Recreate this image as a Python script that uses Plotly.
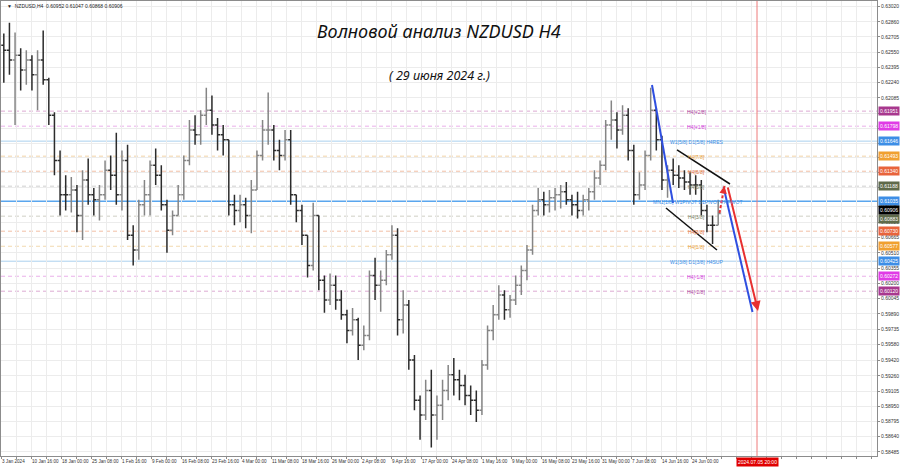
import plotly.graph_objects as go

# ---------------- data (daily candles) ----------------
day_index = list(range(128))

opens = [0.6262, 0.6257, 0.6247, 0.6252, 0.6237, 0.6247, 0.6232, 0.6247, 0.6227, 0.6191,
         0.6145, 0.6110, 0.6110, 0.6115, 0.6089, 0.6125, 0.6110, 0.6105, 0.6110, 0.6135,
         0.6130, 0.6110, 0.6145, 0.6069, 0.6054, 0.6100, 0.6110, 0.6140, 0.6130, 0.6100,
         0.6074, 0.6089, 0.6110, 0.6145, 0.6176, 0.6171, 0.6191, 0.6196, 0.6181, 0.6171,
         0.6166, 0.6100, 0.6094, 0.6100, 0.6089, 0.6115, 0.6150, 0.6176, 0.6176, 0.6155,
         0.6150, 0.6166, 0.6110, 0.6094, 0.6069, 0.6038, 0.6089, 0.6023, 0.6003, 0.6018,
         0.6003, 0.5988, 0.5972, 0.5983, 0.5957, 0.5967, 0.6028, 0.6018, 0.6023, 0.6049,
         0.6069, 0.5983, 0.5998, 0.5942, 0.5901, 0.5886, 0.5911, 0.5886, 0.5896, 0.5911,
         0.5927, 0.5922, 0.5916, 0.5906, 0.5901, 0.5891, 0.5937, 0.5972, 0.5988, 0.6008,
         0.5993, 0.6003, 0.6018, 0.6033, 0.6054, 0.6094, 0.6105, 0.6100, 0.6107, 0.6110,
         0.6113, 0.6105, 0.6100, 0.6094, 0.6105, 0.6113, 0.6127, 0.6140, 0.6181, 0.6186,
         0.6176, 0.6191, 0.6155, 0.6110, 0.6120, 0.6150, 0.6196, 0.6166, 0.6125, 0.6135,
         0.6130, 0.6127, 0.6123, 0.6120, 0.6120, 0.6094, 0.6079, 0.6079]

highs = [0.6274, 0.6285, 0.6275, 0.6259, 0.6257, 0.6252, 0.6257, 0.6277, 0.6229, 0.6194,
         0.6155, 0.6130, 0.6128, 0.6120, 0.6135, 0.6147, 0.6117, 0.6120, 0.6145, 0.6150,
         0.6173, 0.6155, 0.6161, 0.6079, 0.6105, 0.6125, 0.6145, 0.6157, 0.6140, 0.6105,
         0.6094, 0.6120, 0.6150, 0.6186, 0.6191, 0.6196, 0.6219, 0.6211, 0.6188, 0.6181,
         0.6166, 0.6110, 0.6110, 0.6107, 0.6125, 0.6155, 0.6186, 0.6214, 0.6181, 0.6166,
         0.6176, 0.6176, 0.6110, 0.6100, 0.6069, 0.6102, 0.6089, 0.6028, 0.6030, 0.6028,
         0.6013, 0.5993, 0.5995, 0.5985, 0.5977, 0.6033, 0.6046, 0.6033, 0.6054, 0.6079,
         0.6076, 0.6013, 0.6003, 0.5947, 0.5906, 0.5922, 0.5932, 0.5906, 0.5922, 0.5937,
         0.5944, 0.5932, 0.5927, 0.5916, 0.5911, 0.5942, 0.5977, 0.5998, 0.6018, 0.6013,
         0.6008, 0.6028, 0.6038, 0.6059, 0.6100, 0.6117, 0.6113, 0.6115, 0.6117, 0.6120,
         0.6123, 0.6110, 0.6113, 0.6110, 0.6117, 0.6135, 0.6145, 0.6186, 0.6206, 0.6194,
         0.6201, 0.6198, 0.6161, 0.6133, 0.6155, 0.6219, 0.6198, 0.6170, 0.6140, 0.6147,
         0.6140, 0.6135, 0.6133, 0.6130, 0.6125, 0.6100, 0.6089, 0.6105]

lows = [0.6224, 0.6232, 0.6181, 0.6216, 0.6222, 0.6216, 0.6196, 0.6222, 0.6181, 0.6130,
        0.6089, 0.6094, 0.6092, 0.6072, 0.6064, 0.6100, 0.6089, 0.6084, 0.6105, 0.6115,
        0.6100, 0.6094, 0.6064, 0.6038, 0.6044, 0.6089, 0.6089, 0.6120, 0.6094, 0.6051,
        0.6069, 0.6089, 0.6105, 0.6140, 0.6161, 0.6161, 0.6181, 0.6171, 0.6155, 0.6150,
        0.6089, 0.6079, 0.6082, 0.6076, 0.6071, 0.6115, 0.6145, 0.6161, 0.6145, 0.6135,
        0.6145, 0.6100, 0.6082, 0.6059, 0.6026, 0.6033, 0.6013, 0.5990, 0.5998, 0.5993,
        0.5983, 0.5959, 0.5967, 0.5942, 0.5952, 0.5962, 0.6003, 0.5991, 0.6018, 0.6044,
        0.5967, 0.5969, 0.5932, 0.5891, 0.5861, 0.5881, 0.5853, 0.5861, 0.5881, 0.5901,
        0.5906, 0.5901, 0.5896, 0.5886, 0.5879, 0.5886, 0.5932, 0.5962, 0.5983, 0.5983,
        0.5985, 0.5998, 0.6008, 0.6023, 0.6049, 0.6089, 0.6089, 0.6092, 0.6094, 0.6096,
        0.6100, 0.6089, 0.6086, 0.6089, 0.6094, 0.6105, 0.6120, 0.6135, 0.6166, 0.6157,
        0.6171, 0.6145, 0.6100, 0.6105, 0.6115, 0.6145, 0.6155, 0.6115, 0.6107, 0.6120,
        0.6117, 0.6115, 0.6110, 0.6110, 0.6089, 0.6072, 0.6060, 0.6079]

closes = [0.6257, 0.6247, 0.6252, 0.6237, 0.6247, 0.6232, 0.6247, 0.6227, 0.6191, 0.6145,
          0.6110, 0.6110, 0.6115, 0.6089, 0.6125, 0.6110, 0.6105, 0.6110, 0.6135, 0.6130,
          0.6110, 0.6145, 0.6069, 0.6054, 0.6100, 0.6110, 0.6140, 0.6130, 0.6100, 0.6074,
          0.6089, 0.6110, 0.6145, 0.6176, 0.6171, 0.6191, 0.6196, 0.6181, 0.6171, 0.6166,
          0.6100, 0.6094, 0.6100, 0.6089, 0.6115, 0.6150, 0.6176, 0.6176, 0.6155, 0.6150,
          0.6166, 0.6110, 0.6094, 0.6069, 0.6038, 0.6089, 0.6023, 0.6003, 0.6018, 0.6003,
          0.5988, 0.5972, 0.5983, 0.5957, 0.5967, 0.6028, 0.6018, 0.6023, 0.6049, 0.6069,
          0.5983, 0.5998, 0.5942, 0.5901, 0.5886, 0.5911, 0.5886, 0.5896, 0.5911, 0.5927,
          0.5922, 0.5916, 0.5906, 0.5901, 0.5891, 0.5937, 0.5972, 0.5988, 0.6008, 0.5993,
          0.6003, 0.6018, 0.6033, 0.6054, 0.6094, 0.6105, 0.6100, 0.6107, 0.6110, 0.6113,
          0.6105, 0.6100, 0.6094, 0.6105, 0.6113, 0.6127, 0.6140, 0.6181, 0.6186, 0.6176,
          0.6191, 0.6155, 0.6110, 0.6120, 0.6150, 0.6196, 0.6166, 0.6125, 0.6135, 0.6130,
          0.6127, 0.6123, 0.6120, 0.6120, 0.6094, 0.6079, 0.6079, 0.6091]

# x axis (H4 bar units) tick labels
x_tick_bars = [0, 32, 64, 96, 128, 160, 192, 224, 256, 288, 320, 352, 384, 416,
               448, 480, 512, 544, 576, 608, 640, 672, 704, 736]
x_tick_labels = ["3 Jan 2024", "10 Jan 16:00", "18 Jan 00:00", "25 Jan 08:00",
                 "1 Feb 16:00", "9 Feb 00:00", "16 Feb 08:00", "23 Feb 16:00",
                 "4 Mar 00:00", "11 Mar 08:00", "18 Mar 16:00", "26 Mar 00:00",
                 "2 Apr 08:00", "9 Apr 16:00", "17 Apr 00:00", "24 Apr 08:00",
                 "1 May 16:00", "9 May 00:00", "16 May 08:00", "23 May 16:00",
                 "31 May 00:00", "7 Jun 08:00", "14 Jun 16:00", "24 Jun 00:00"]

# price axis ticks (labels hidden behind the level tags are left blank)
y_tick_values = [0.63020, 0.62860, 0.62705, 0.62550, 0.62395, 0.62240, 0.62085,
                 0.61930, 0.61775, 0.61620, 0.61480, 0.61325, 0.61170, 0.60980,
                 0.60820, 0.60665, 0.60510, 0.60355, 0.60200, 0.60045, 0.59890,
                 0.59735, 0.59580, 0.59420, 0.59260, 0.59105, 0.58950, 0.58795,
                 0.58640, 0.58485]
y_hidden_labels = [0.61930, 0.61775, 0.61620, 0.61480, 0.61325, 0.61170]

# Murrey levels
level_prices = [0.61951, 0.61798, 0.61646, 0.61493, 0.61340, 0.61188, 0.61035,
                0.60883, 0.60730, 0.60577, 0.60425, 0.60272, 0.60120]
level_names = ["H4[+2/8]", "H4[+1/8]", "W1[5/8] D1[5/8] H4RES", "H4[7/8]", "H4[6/8]",
               "H4[5/8]", "MN1[1/8] W1PIVOT D1PIVOT H4PIVOT", "H4[3/8]", "H4[2/8]",
               "H4[1/8]", "W1[3/8] D1[3/8] H4SUP", "H4[-1/8]", "H4[-2/8]"]
current_price = 0.60906
header_ohlc = ["0.60952", "0.61047", "0.60868", "0.60906"]

# drawn analysis objects (bar index, price)
blue_line_1 = ([694.4, 716.8], [0.62217, 0.61017])
blue_line_2 = ([770.7, 801.6], [0.61179, 0.59908])
black_upper = ([721.1, 777.6], [0.61556, 0.61210])
black_lower = ([709.3, 763.7], [0.60966, 0.60539])
red_dashed = ([766.4, 771.7], [0.60915, 0.61190])
red_solid = ([774.9, 807.5], [0.61190, 0.59918])
future_time_bar = 806.4
future_time_label = "2024.07.05 20:00"

# ---------------- styles ----------------
tag_colors = ["#a8388e", "#e03ce6", "#3d8ee6", "#f0a030", "#e8643c", "#5f6a4a",
              "#3d8ee6", "#5f6a4a", "#e8643c", "#f0a030", "#3d8ee6", "#e03ce6", "#a8388e"]
text_colors = ["#b04aa0", "#d040d8", "#3d8ee6", "#e8a040", "#e07040", "#7a8064",
               "#3d8ee6", "#7a8064", "#e07040", "#e8a040", "#3d8ee6", "#d040d8", "#b04aa0"]
line_colors = ["#dcaad2", "#eab0ea", "#aad0ee", "#f2d3a6", "#f2bfa6", "#cfcfcf",
               "#5aa6ee", "#cfcfc4", "#f2bfa6", "#f2d9ae", "#aad0ee", "#eab0ea", "#dcaad2"]
line_dash = ["4px,3px", "4px,3px", "solid", "4px,3px", "4px,3px", "4px,3px", "solid",
             "4px,3px", "4px,3px", "4px,3px", "solid", "4px,3px", "4px,3px"]
line_width = [1, 1, 1, 1, 1, 1, 1.6, 1, 1, 1, 1, 1, 1]
label_bar = [729.6, 729.6, 711.5, 730.5, 730.5, 730.5, 693.3, 730.5, 730.5, 730.5,
             711.5, 729.6, 729.6]
tag_shift = [0, 0, 0, 0, 0, 0, 0, -3, 0, 0, 0, 0, 0]

X_RANGE = [0, 934.4]
Y_RANGE = [0.58444, 0.63071]
SMALL = 5
XFONT = 4.6
FONT = "Liberation Sans"

x_candle = [6 * d + 3 for d in day_index]

fig = go.Figure()

fig.add_trace(go.Ohlc(
    x=x_candle, open=opens, high=highs, low=lows, close=closes,
    increasing=dict(line=dict(color="#858585", width=1.5)),
    decreasing=dict(line=dict(color="#2c2c2c", width=1.5)),
    tickwidth=0.45, showlegend=False, hoverinfo="skip"))

# level lines
shapes = []
for p, c, d, w in zip(level_prices, line_colors, line_dash, line_width):
    shapes.append(dict(type="line", xref="paper", x0=0, x1=1, yref="y", y0=p, y1=p,
                       line=dict(color=c, width=w, dash=d), layer="below"))
shapes.append(dict(type="line", xref="x", x0=future_time_bar, x1=future_time_bar,
                   yref="paper", y0=0, y1=1, line=dict(color="#ee7a7a", width=1)))

# drawings
for (xs, ys), col, w in [(blue_line_1, "#2f4fe0", 2), (blue_line_2, "#2f4fe0", 2),
                         (black_upper, "#111111", 1.5), (black_lower, "#111111", 1.5)]:
    fig.add_trace(go.Scatter(x=xs, y=ys, mode="lines", line=dict(color=col, width=w),
                             showlegend=False, hoverinfo="skip"))
fig.add_trace(go.Scatter(x=red_dashed[0], y=red_dashed[1], mode="lines",
                         line=dict(color="#e83030", width=2, dash="3px,2px"),
                         showlegend=False, hoverinfo="skip"))

annotations = []
# arrow heads
annotations.append(dict(x=red_solid[0][1], y=red_solid[1][1], ax=red_solid[0][0], ay=red_solid[1][0],
                        xref="x", yref="y", axref="x", ayref="y", showarrow=True, text="",
                        arrowcolor="#e83030", arrowwidth=2, arrowhead=2, arrowsize=1))
hx = red_dashed[0][1] - 0.25 * (red_dashed[0][1] - red_dashed[0][0])
hy = red_dashed[1][1] - 0.25 * (red_dashed[1][1] - red_dashed[1][0])
annotations.append(dict(x=red_dashed[0][1], y=red_dashed[1][1], ax=hx, ay=hy,
                        xref="x", yref="y", axref="x", ayref="y", showarrow=True, text="",
                        arrowcolor="#e83030", arrowwidth=1.5, arrowhead=2, arrowsize=1))

# level text labels
for p, name, col, xb in zip(level_prices, level_names, text_colors, label_bar):
    annotations.append(dict(x=xb, y=p, xref="x", yref="y", text=name, showarrow=False,
                            xanchor="left", yanchor="middle", yshift=-1,
                            font=dict(size=SMALL, color=col, family=FONT)))

# price tags on the right axis
for p, col, sh in zip(level_prices, tag_colors, tag_shift):
    annotations.append(dict(x=1, y=p, xref="paper", yref="y", text=f"{p:.5f}",
                            showarrow=False, xanchor="left", yanchor="middle", xshift=1,
                            yshift=sh, bgcolor=col, borderpad=1,
                            font=dict(size=SMALL, color="white", family=FONT)))
annotations.append(dict(x=1, y=current_price, xref="paper", yref="y", text=f"{current_price:.5f}",
                        showarrow=False, xanchor="left", yanchor="middle", xshift=1, yshift=3.5,
                        bgcolor="#000000", borderpad=1,
                        font=dict(size=SMALL, color="white", family=FONT)))

# future time label
annotations.append(dict(x=future_time_bar, y=0, xref="x", yref="paper", text=future_time_label,
                        showarrow=False, xanchor="center", yanchor="top", yshift=-1,
                        bgcolor="#e00000", borderpad=1,
                        font=dict(size=SMALL, color="white", family=FONT)))

# header and titles
annotations.append(dict(x=0.004, y=0.999, xref="paper", yref="paper",
                        text="▼  NZDUSD,H4  " + " ".join(header_ohlc), showarrow=False,
                        xanchor="left", yanchor="top",
                        font=dict(size=SMALL, color="#222222", family=FONT)))
annotations.append(dict(x=0.5, y=0.933, xref="paper", yref="paper",
                        text="Волновой анализ NZDUSD H4", showarrow=False,
                        xanchor="center", yanchor="middle",
                        font=dict(size=18, color="#111111", family="Noto Sans", style="italic")))
annotations.append(dict(x=0.5, y=0.837, xref="paper", yref="paper",
                        text="( 29 июня 2024 г.)", showarrow=False,
                        xanchor="center", yanchor="middle",
                        font=dict(size=12.5, color="#111111", family="Noto Sans", style="italic")))

# grid ticks
x_grid = list(range(0, 935, 16))
x_text = [x_tick_labels[x_tick_bars.index(v)] if v in x_tick_bars else "" for v in x_grid]
y_text = ["" if v in y_hidden_labels else f"{v:.5f}" for v in y_tick_values]

fig.update_layout(
    width=900, height=468,
    margin=dict(l=1, r=23, t=1, b=12),
    paper_bgcolor="white", plot_bgcolor="white",
    shapes=shapes, annotations=annotations,
    showlegend=False,
    xaxis=dict(range=X_RANGE, tickmode="array", tickvals=x_grid, ticktext=x_text,
               ticklabelposition="outside right", tickangle=0,
               tickfont=dict(size=XFONT, color="#333333", family=FONT),
               showgrid=True, gridcolor="#ececec", gridwidth=1,
               showline=True, linecolor="#8c8c8c", mirror=True,
               ticks="outside", ticklen=2, tickcolor="#8c8c8c",
               zeroline=False, rangeslider=dict(visible=False), fixedrange=True),
    yaxis=dict(range=Y_RANGE, side="right", tickmode="array", tickvals=y_tick_values,
               ticktext=y_text,
               tickfont=dict(size=SMALL, color="#333333", family=FONT),
               showgrid=True, gridcolor="#ececec", gridwidth=1,
               showline=True, linecolor="#8c8c8c", mirror=True,
               ticks="outside", ticklen=2, tickcolor="#8c8c8c",
               zeroline=False, fixedrange=True),
)

fig.write_html("out.html", config={"displayModeBar": False},
               post_script="document.body.style.margin='0';document.body.style.padding='0';")
